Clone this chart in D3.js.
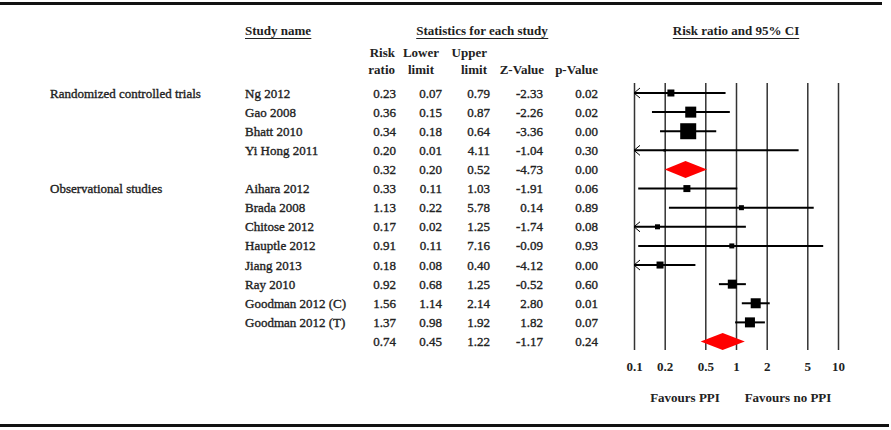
<!DOCTYPE html>
<html>
<head>
<meta charset="utf-8">
<script src="https://cdn.jsdelivr.net/npm/d3@7"></script>
<style>
  html, body { margin: 0; padding: 0; background: #fff; }
  svg { display: block; }
  text { font-family: "Liberation Serif", "Times New Roman", serif; fill: #222; }
</style>
</head>
<body>
<svg id="chart" width="891" height="430"></svg>
<script>
// ---- data ----
const groupLabels = ["Randomized controlled trials", "", "", "", "", "Observational studies", "", "", "", "", "", "", "", ""];
const studyNames = ["Ng 2012", "Gao 2008", "Bhatt 2010", "Yi Hong 2011", "", "Aihara 2012", "Brada 2008", "Chitose 2012", "Hauptle 2012", "Jiang 2013", "Ray 2010", "Goodman 2012 (C)", "Goodman 2012 (T)", ""];
const isSummary = [false, false, false, false, true, false, false, false, false, false, false, false, false, true];
const riskRatio = [0.23, 0.36, 0.34, 0.20, 0.32, 0.33, 1.13, 0.17, 0.91, 0.18, 0.92, 1.56, 1.37, 0.74];
const lowerLimit = [0.07, 0.15, 0.18, 0.01, 0.20, 0.11, 0.22, 0.02, 0.11, 0.08, 0.68, 1.14, 0.98, 0.45];
const upperLimit = [0.79, 0.87, 0.64, 4.11, 0.52, 1.03, 5.78, 1.25, 7.16, 0.40, 1.25, 2.14, 1.92, 1.22];
const zValue = ["-2.33", "-2.26", "-3.36", "-1.04", "-4.73", "-1.91", "0.14", "-1.74", "-0.09", "-4.12", "-0.52", "2.80", "1.82", "-1.17"];
const pValue = ["0.02", "0.02", "0.00", "0.30", "0.00", "0.06", "0.89", "0.08", "0.93", "0.00", "0.60", "0.01", "0.07", "0.24"];
const studyWeight = [49, 121, 256, 6, 0, 49, 25, 25, 25, 49, 81, 100, 100, 0];
const axisTicks = [0.1, 0.2, 0.5, 1, 2, 5, 10];
const axisTickLabels = ["0.1", "0.2", "0.5", "1", "2", "5", "10"];

// ---- layout ----
const svg = d3.select("#chart");
const n = riskRatio.length;
const y = d3.scalePoint().domain(d3.range(n)).range([93, 341.5]);
const x = d3.scaleLog().domain([0.1, 10]).range([634, 838]);
const sq = d3.scaleSqrt().domain([0, 256]).range([0, 16]);
const plotTop = 83, plotBottom = 350;
const fs = 13;

// rules
svg.append("rect").attr("x", 0).attr("y", 2).attr("width", 882).attr("height", 3).attr("fill", "#111");
svg.append("rect").attr("x", 0).attr("y", 424).attr("width", 889).attr("height", 3).attr("fill", "#111");

// headers (bold, underlined)
function header(txt, xPos, anchor) {
  const t = svg.append("text").attr("x", xPos).attr("y", 35).attr("text-anchor", anchor)
    .attr("font-size", fs).attr("font-weight", "bold").text(txt);
  const bb = t.node().getBBox();
  svg.append("line").attr("x1", bb.x).attr("x2", bb.x + bb.width)
    .attr("y1", 38.5).attr("y2", 38.5).attr("stroke", "#222").attr("stroke-width", 1);
}
header("Study name", 245, "start");
header("Statistics for each study", 482, "middle");
header("Risk ratio and 95% CI", 736, "middle");

// column sub-headers
const colRight = [396, 442, 490, 543, 598];
const subHeads = [["Risk", "ratio", 395, "end"], ["Lower", "limit", 421, "middle"], ["Upper", "limit", 487, "end"], ["", "Z-Value", 544, "end"], ["", "p-Value", 598, "end"]];
subHeads.forEach(([a, b, xp, anc]) => {
  if (a) svg.append("text").attr("x", xp).attr("y", 57).attr("text-anchor", anc).attr("font-size", fs).attr("font-weight", "bold").text(a);
  svg.append("text").attr("x", xp).attr("y", 73.5).attr("text-anchor", anc).attr("font-size", fs).attr("font-weight", "bold").text(b);
});

// rows text
const rows = d3.range(n);
const tg = svg.append("g").attr("font-size", fs).attr("stroke", "#222").attr("stroke-width", 0.35);
tg.selectAll(".grp").data(rows.filter(i => groupLabels[i])).join("text")
  .attr("x", 50).attr("y", i => y(i) + 4.5).text(i => groupLabels[i]);
tg.selectAll(".nm").data(rows.filter(i => studyNames[i])).join("text")
  .attr("x", 245).attr("y", i => y(i) + 4.5).text(i => studyNames[i]);
const cols = [i => riskRatio[i].toFixed(2), i => lowerLimit[i].toFixed(2), i => upperLimit[i].toFixed(2), i => zValue[i], i => pValue[i]];
cols.forEach((f, c) => {
  tg.append("g").selectAll("text").data(rows).join("text")
    .attr("x", colRight[c]).attr("y", i => y(i) + 4.5).attr("text-anchor", "end").text(f);
});

// axis with full-height gridlines
const axis = d3.axisBottom(x).tickValues(axisTicks)
  .tickFormat((d, i) => axisTickLabels[i])
  .tickSizeInner(-(plotBottom - plotTop)).tickSizeOuter(0).tickPadding(12);
const ag = svg.append("g").attr("transform", `translate(0,${plotBottom})`).call(axis);
ag.select(".domain").remove();
ag.selectAll(".tick line").attr("stroke", "#333").attr("stroke-width", 1.5);
ag.selectAll(".tick text").attr("font-family", "Liberation Serif, serif").attr("font-size", fs)
  .attr("font-weight", "bold").attr("fill", "#222");

// forest marks
const fg = svg.append("g");
const lo = x.domain()[0], hi = x.domain()[1];
rows.filter(i => !isSummary[i]).forEach(i => {
  const yy = y(i);
  const x1 = x(Math.max(lowerLimit[i], lo)), x2 = x(Math.min(upperLimit[i], hi));
  fg.append("line").attr("x1", x1).attr("x2", x2).attr("y1", yy).attr("y2", yy)
    .attr("stroke", "#000").attr("stroke-width", 2);
  if (lowerLimit[i] < lo) {
    fg.append("path").attr("d", `M${x1 + 6},${yy - 5}L${x1},${yy}L${x1 + 6},${yy + 5}`)
      .attr("fill", "none").attr("stroke", "#000").attr("stroke-width", 1);
  }
  const s = Math.max(sq(studyWeight[i]), 2.5);
  fg.append("rect").attr("x", x(riskRatio[i]) - s / 2).attr("y", yy - s / 2)
    .attr("width", s).attr("height", s).attr("fill", "#000");
});
rows.filter(i => isSummary[i]).forEach(i => {
  const yy = y(i), h = 8.5;
  fg.append("path")
    .attr("d", `M${x(lowerLimit[i])},${yy}L${x(riskRatio[i])},${yy - h}L${x(upperLimit[i])},${yy}L${x(riskRatio[i])},${yy + h}Z`)
    .attr("fill", "#ff0000");
});

// favours labels
svg.append("text").attr("x", 685).attr("y", 402).attr("text-anchor", "middle").attr("font-size", fs).attr("font-weight", "bold").text("Favours PPI");
svg.append("text").attr("x", 788).attr("y", 402).attr("text-anchor", "middle").attr("font-size", fs).attr("font-weight", "bold").text("Favours no PPI");
</script>
</body>
</html>
